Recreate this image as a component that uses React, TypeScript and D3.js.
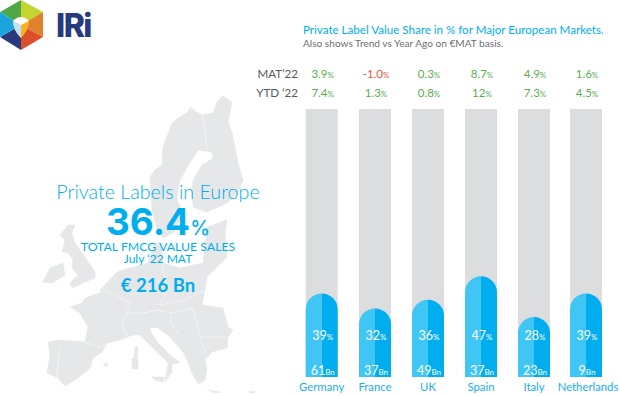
import React from "react";
import * as d3 from "d3";

const countries = ["Germany", "France", "UK", "Spain", "Italy", "Netherlands"];
const shareValues = [39, 32, 36, 47, 28, 39];
const salesBn = [61, 37, 49, 37, 23, 9];
const matTrend = [3.9, -1.0, 0.3, 8.7, 4.9, 1.6];
const ytdTrend = ["7.4", "1.3", "0.8", "12", "7.3", "4.5"];
const barCentres = [321.7, 375, 428, 481, 534, 586];

// Decorative map silhouette
const mapShapes: [number, number][][] = [
  [[223,96],[232,102],[230,113],[228,122],[232,133],[235,147],[238,163],[243,180],[238,193],[227,203],[207,212],[193,207],[192,193],[193,180],[202,165],[213,158],[212,152],[198,150],[190,163],[180,180],[178,190],[177,200],[182,210],[180,220],[173,233],[163,238],[157,230],[152,210],[150,183],[150,177],[155,170],[162,165],[163,147],[172,123],[178,118],[188,112],[190,107],[202,115],[213,113],[217,102]],
  [[70,307],[82,303],[85,298],[102,292],[100,290],[117,272],[130,268],[148,263],[155,243],[162,243],[162,263],[180,268],[203,263],[205,247],[207,227],[227,220],[225,233],[227,257],[217,267],[207,277],[205,290],[202,305],[223,308],[228,327],[233,330],[228,337],[227,348],[212,352],[205,360],[207,368],[205,380],[198,384],[192,373],[187,360],[183,352],[170,337],[158,328],[150,327],[151,332],[158,343],[172,357],[180,362],[172,365],[172,372],[165,382],[168,363],[160,355],[148,343],[140,335],[133,335],[120,340],[107,343],[102,352],[93,358],[90,368],[78,378],[65,386],[58,378],[47,373],[50,355],[48,342],[60,340],[85,342],[88,327],[80,313]],
  [[68,225],[75,225],[72,233],[75,243],[85,257],[95,272],[95,278],[83,283],[72,288],[70,283],[78,275],[72,268],[73,260],[68,253],[62,252],[65,240],[60,235]],
  [[63,263],[65,275],[52,283],[43,282],[50,268]],
  [[132,358],[138,358],[138,369],[132,369]],
  [[135,347],[138,347],[137,358],[134,357]],
  [[152,377],[165,377],[163,382],[155,380]],
  [[103,364],[108,364],[106,367]],
  [[207,390],[220,392],[215,393]],
  [[248,392],[255,391],[254,393]],
];
const mapBorders: [number, number][][] = [
  [[190,107],[202,115],[205,130],[207,150]],
  [[85,342],[102,348],[105,345]],
  [[60,350],[57,370],[58,378]],
  [[102,288],[130,303],[127,313],[122,322],[125,333],[130,338]],
  [[127,313],[143,313],[158,310],[172,313],[170,322],[180,335]],
  [[162,263],[167,290],[160,305],[157,303]],
  [[160,305],[185,300],[205,290]],
  [[172,313],[193,308],[200,337],[227,337]],
  [[200,337],[205,352]],
];

const hexSlices = [
  { pts: [[21,25],[21,0],[0,12]], fill: "#4FA746" },
  { pts: [[21,25],[21,0],[43,12]], fill: "#C5D52F" },
  { pts: [[21,25],[43,12],[43,37]], fill: "#E0812B" },
  { pts: [[21,25],[43,37],[21,50]], fill: "#DD4F2A" },
  { pts: [[21,25],[21,50],[0,37]], fill: "#263A7C" },
  { pts: [[21,25],[0,37],[0,12]], fill: "#1CA4DC" },
];

const BLUE = "#00AEEF";
const LIGHT = "#3FC6F5";
const GRAY = "#DCDDDE";
const FONT = "Lato, 'Open Sans', sans-serif";
const BAR_W = 32;

export default function App() {
  const y = d3.scaleLinear().domain([0, 125]).range([377, 109]);
  const x = d3.scaleOrdinal<string, number>().domain(countries).range(barCentres);
  const line = d3.line();
  const valColor = (v: number) => (v < 0 ? "#E2553F" : "#5BAE50");

  const barPath = (c: number, top: number, bottom: number, side: number) => {
    const r = BAR_W / 2;
    const p = d3.path();
    p.moveTo(c, bottom);
    p.lineTo(c + side * r, bottom);
    p.lineTo(c + side * r, top + r);
    p.arc(c, top + r, r, side > 0 ? 0 : Math.PI, -Math.PI / 2, side > 0);
    p.closePath();
    return p.toString();
  };

  return (
    <svg
      width={620}
      height={396}
      style={{ position: "absolute", left: 0, top: 0, background: "#fff" }}
      fontFamily={FONT}
    >
      <g>
        {mapShapes.map((s, i) => (
          <path key={i} d={(line(s) ?? "") + "Z"} fill="#E6E7E8" stroke="#E6E7E8" strokeWidth={0.6} strokeLinejoin="round" />
        ))}
        {mapBorders.map((s, i) => (
          <path key={i} d={line(s) ?? ""} fill="none" stroke="#F6F6F7" strokeWidth={0.8} />
        ))}
      </g>

      <g>
        {hexSlices.map((h, i) => (
          <path key={i} d={(line(h.pts as [number, number][]) ?? "") + "Z"} fill={h.fill} />
        ))}
        <path d="M13,21 Q21,13 29,21 Q29,30 21,38 Q13,30 13,21Z" fill="#F5B324" />
        <path d="M13,21 Q13,30 21,38 L21,25Z" fill="#BFE3F2" />
        <path d="M13,21 Q21,13 29,21 L21,25Z" fill="#FFFFFF" />
        <text x={56} y={37} fontFamily="Inter, Liberation Sans, sans-serif" fontWeight={800} fontSize={32} letterSpacing={-1.5} fill="#263A7C">
          IRi
        </text>
      </g>

      <text x={158} y={199} textAnchor="middle" fontSize={19.7} fontWeight={300} fill={BLUE}>
        Private Labels in Europe
      </text>
      <text x={158} y={235} textAnchor="middle" fontFamily="Inter, Lato, sans-serif" fontWeight={700} fill={BLUE} fontSize={37}>
        36.4<tspan fontSize={20} fontWeight={500}>%</tspan>
      </text>
      <text x={158} y={251} textAnchor="middle" fontSize={12.3} fill={BLUE}>
        TOTAL FMCG VALUE SALES
      </text>
      <text x={158} y={263} textAnchor="middle" fontSize={12} fill={BLUE}>
        July ‘22 MAT
      </text>
      <text x={158} y={292} textAnchor="middle" fontSize={18.5} fontWeight={700} fill={BLUE}>
        € 216 Bn
      </text>

      <text x={303} y={34} fontSize={11.6} fill={BLUE}>
        Private Label Value Share in % for Major European Markets.
      </text>
      <text x={303} y={47} fontSize={10.1} fill="#6D6E71">
        Also shows Trend vs Year Ago on €MAT basis.
      </text>

      <text x={298} y={78} textAnchor="end" fontSize={11.6} fill="#58595B">MAT’22</text>
      <text x={298} y={97} textAnchor="end" fontSize={11.6} fill="#58595B">YTD ‘22</text>

      {countries.map((c, i) => {
        const cx = x(c);
        const top = y(shareValues[i]);
        return (
          <g key={c}>
            <text x={cx + 1} y={78} textAnchor="middle" fontSize={11.5} fill={valColor(matTrend[i])}>
              {matTrend[i].toFixed(1)}<tspan fontSize={8}>%</tspan>
            </text>
            <text x={cx + 1} y={97} textAnchor="middle" fontSize={11.5} fill={valColor(1)}>
              {ytdTrend[i]}<tspan fontSize={8}>%</tspan>
            </text>
            <rect x={cx - BAR_W / 2} y={y(125)} width={BAR_W} height={y(0) - y(125)} fill={GRAY} />
            <path d={barPath(cx, top, y(0), -1)} fill={LIGHT} />
            <path d={barPath(cx, top, y(0), 1)} fill={BLUE} />
            <text x={cx + 1} y={340} textAnchor="middle" fontSize={12.5} fill="#fff">
              {shareValues[i]}<tspan fontSize={8}>%</tspan>
            </text>
            <text x={cx + 1} y={375} textAnchor="middle" fontSize={12.5} fill="#fff">
              {salesBn[i]}<tspan fontSize={8}>Bn</tspan>
            </text>
            <text x={i === 5 ? cx + 2 : cx} y={390.5} textAnchor="middle" fontSize={11.3} fill="#17AEEE">
              {c}
            </text>
          </g>
        );
      })}
    </svg>
  );
}
